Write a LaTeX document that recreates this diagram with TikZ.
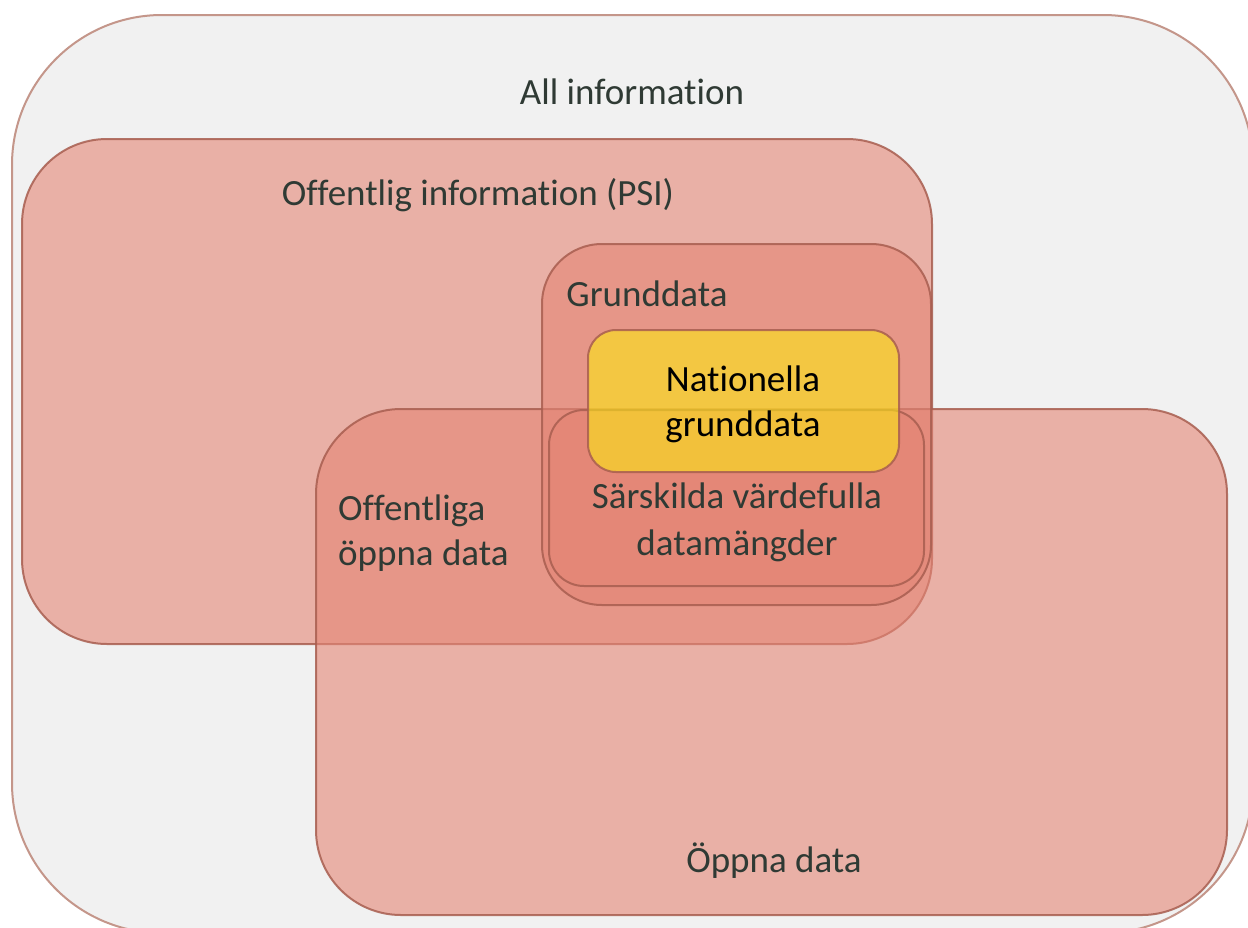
\documentclass[tikz,border=0pt]{standalone}
\usepackage{fontspec}
\setmainfont{Carlito}[Ligatures={NoCommon}]
\definecolor{bgfill}{HTML}{F1F1F1}
\definecolor{bgline}{HTML}{C4968A}
\definecolor{salmon}{RGB}{228,133,117}
\definecolor{boxline}{HTML}{A85E50}
\definecolor{yel}{RGB}{252,232,20}
\definecolor{txt}{HTML}{2F3A34}
\tikzset{
  setbox/.style={draw=boxline, draw opacity=0.85, line width=2pt, fill=salmon, fill opacity=0.6, inner sep=0pt, outer sep=0pt},
  natbox/.style={draw=boxline, draw opacity=0.85, line width=2pt, fill=yel, fill opacity=0.6, inner sep=0pt, outer sep=0pt},
  lbl/.style={font=\fontsize{37}{45}\selectfont, text=txt, inner sep=0pt},
}
\begin{document}
\begin{tikzpicture}[x=1pt,y=-1pt]
\clip (0,0) rectangle (1248,927);
\fill[white] (0,0) rectangle (1248,927);
\node[draw=bgline, line width=2pt, fill=bgfill, rounded corners=150pt, minimum width=1241pt, minimum height=918pt, inner sep=0pt] (all) at (632.5,474) {};
\node[setbox, rounded corners=85pt, minimum width=910pt, minimum height=505pt] (psi) at (477,391.5) {};
\node[setbox, rounded corners=85pt, minimum width=911pt, minimum height=506pt] (open) at (771.5,662) {};
\node[setbox, rounded corners=60pt, minimum width=389pt, minimum height=361pt] (grund) at (736.5,424.5) {};
\node[setbox, rounded corners=35pt, minimum width=375pt, minimum height=176pt] (hvd) at (736.5,498) {};
\node[natbox, rounded corners=28pt, minimum width=311pt, minimum height=142pt] (nat) at (743.5,401) {};
\node[lbl] (allt) at (632,92) {All information};
\node[lbl] (psit) at (478,195) {Offentlig information (PSI)};
\node[lbl] (grundt) at (647,294) {Grunddata};
\node[lbl, text=black, align=center] (natt) at (743,404) {Nationella\\grunddata};
\node[lbl, align=center, font=\fontsize{37}{47}\selectfont] (hvdt) at (737,522) {Särskilda värdefulla\\datamängder};
\node[lbl, align=left, anchor=west] (offt) at (338,533) {Offentliga\\öppna data};
\node[lbl] (opent) at (774,861) {Öppna data};
\end{tikzpicture}
\end{document}
